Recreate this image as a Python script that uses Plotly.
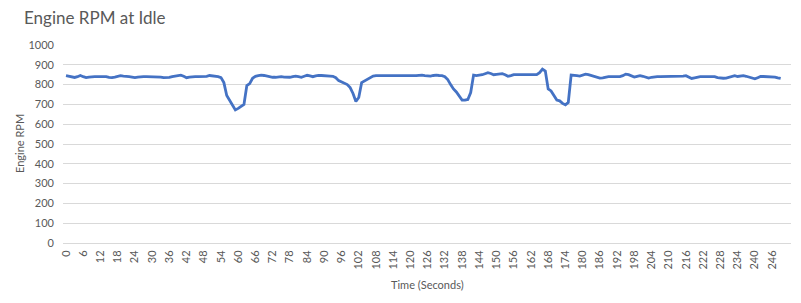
import plotly.graph_objects as go

time_s = list(range(0, 250))
rpm = [
    845, 842, 837, 836, 840, 846, 840, 835, 838, 840,
    840, 840, 840, 840, 840, 836, 835, 838, 842, 845,
    843, 840, 840, 838, 835, 838, 840, 840, 840, 840,
    840, 840, 840, 838, 835, 834, 836, 840, 843, 846,
    848, 842, 835, 838, 840, 840, 840, 840, 840, 842,
    846, 845, 841, 840, 835, 810, 745, 720, 695, 672,
    680, 690, 700, 795, 805, 832, 842, 845, 848, 846,
    842, 838, 837, 837, 840, 840, 838, 837, 837, 840,
    843, 840, 837, 842, 847, 844, 840, 844, 847, 846,
    844, 843, 843, 842, 835, 820, 812, 808, 800, 785,
    755, 715, 735, 810, 818, 830, 838, 843, 845, 845,
    845, 845, 845, 843, 843, 843, 845, 845, 845, 845,
    845, 845, 845, 847, 848, 845, 843, 843, 846, 848,
    846, 845, 840, 825, 800, 778, 763, 740, 722, 722,
    725, 760, 848, 845, 846, 850, 855, 860, 856, 850,
    852, 855, 855, 850, 842, 845, 850, 850, 850, 850,
    850, 850, 850, 850, 850, 860, 878, 868, 778, 768,
    745, 722, 718, 705, 698, 710, 848, 848, 845, 843,
    848, 853, 850, 845, 843, 838, 833, 834, 838, 840,
    840, 840, 840, 840, 845, 853, 850, 842, 838, 842,
    845, 842, 836, 833, 837, 840, 840, 840, 840, 840,
    840, 840, 840, 840, 840, 843, 845, 838, 831, 834,
    838, 840, 840, 840, 840, 840, 840, 835, 832, 832,
    833, 838, 844, 845, 841, 843, 845, 842, 837, 832,
    829, 835, 841, 841, 841, 841, 841, 838, 834, 831,
]
x_ticks = list(range(0, 250, 6))
y_ticks = list(range(0, 1001, 100))

title_text = "Engine RPM at Idle"
x_title = "Time (Seconds)"
y_title = "Engine RPM"

FONT = "Lato, 'Open Sans', sans-serif"
GRAY = "#595959"

L, R, T, B = 63, 10, 45, 60
W, H = 801, 303
pw = W - L - R
ph = H - T - B


def px_x(px):
    return (px - L) / pw


def px_y(py):
    return (H - B - py) / ph


fig = go.Figure()
fig.add_trace(go.Scatter(
    x=time_s, y=rpm, mode="lines",
    line=dict(color="#4472C4", width=2.8),
    hoverinfo="skip",
))

fig.update_layout(
    width=W, height=H,
    margin=dict(l=L, r=R, t=T, b=B),
    paper_bgcolor="white", plot_bgcolor="white",
    showlegend=False,
    font=dict(family=FONT, color=GRAY, size=11),
    xaxis=dict(
        range=[-1.05, 252.6],
        tickmode="array", tickvals=x_ticks, ticktext=[str(v) for v in x_ticks],
        tickangle=-90, showgrid=False, zeroline=False,
        showline=True, linecolor="#d9d9d9", linewidth=1,
        ticks="", tickfont=dict(size=11, color=GRAY, family=FONT),
        ticklabelstandoff=2,
    ),
    yaxis=dict(
        range=[0, 1000],
        tickmode="array", tickvals=y_ticks,
        showgrid=True, gridcolor="#d9d9d9", gridwidth=1,
        zeroline=False, showline=False, ticks="",
        tickfont=dict(size=11, color=GRAY, family=FONT),
        ticklabelstandoff=8,
    ),
    annotations=[
        dict(text=title_text, x=px_x(22), y=px_y(18), xref="paper", yref="paper",
             showarrow=False, font=dict(size=17, color=GRAY, family=FONT),
             xanchor="left", yanchor="middle"),
        dict(text=x_title, x=px_x(427), y=px_y(284), xref="paper", yref="paper",
             showarrow=False, font=dict(size=11, color=GRAY, family=FONT),
             xanchor="center", yanchor="middle"),
        dict(text=y_title, x=px_x(19), y=px_y(144), xref="paper", yref="paper",
             showarrow=False, textangle=-90,
             font=dict(size=11, color=GRAY, family=FONT),
             xanchor="center", yanchor="middle"),
    ],
)

fig.write_html("out.html")
